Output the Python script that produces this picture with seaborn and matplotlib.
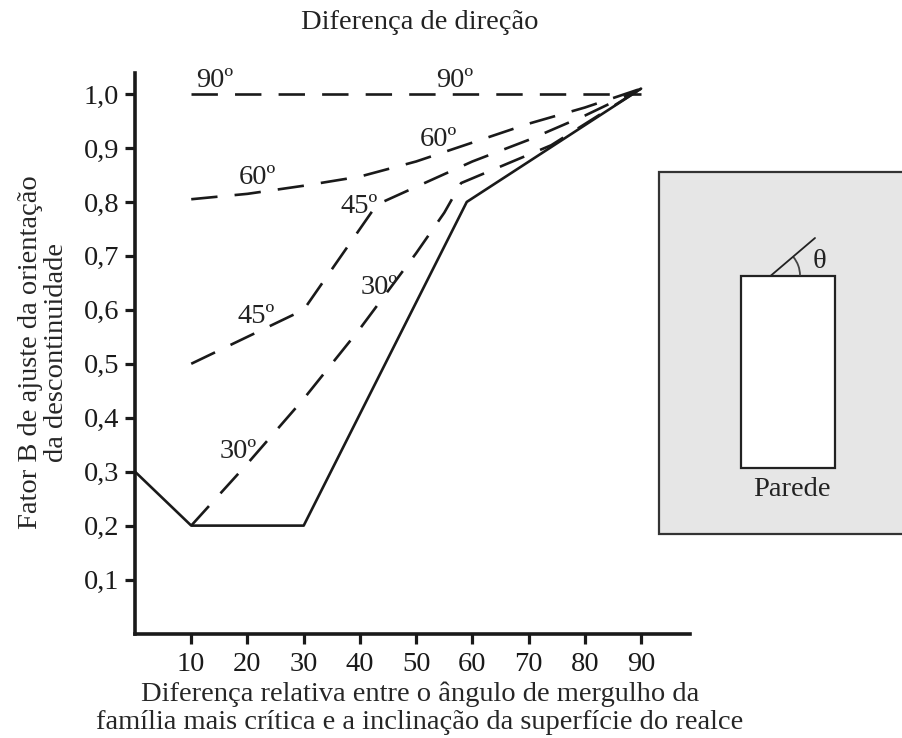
import numpy as np
import pandas as pd
import matplotlib.pyplot as plt
from matplotlib.patches import Rectangle, Arc
import seaborn as sns

# curves (x = angle difference, y = factor B)
x_solid = [0, 10, 30, 59, 90]
y_solid = [0.30, 0.20, 0.20, 0.80, 1.01]

x_30 = [10, 20, 30, 40, 50, 55, 58, 74, 90]
y_30 = [0.20, 0.315, 0.435, 0.565, 0.705, 0.78, 0.835, 0.905, 1.01]

x_45 = [10, 30, 43, 50, 60, 70, 80, 90]
y_45 = [0.50, 0.60, 0.795, 0.828, 0.875, 0.915, 0.96, 1.01]

x_60 = [10, 20, 30, 40, 50, 60, 70, 80, 90]
y_60 = [0.805, 0.815, 0.83, 0.847, 0.875, 0.91, 0.945, 0.975, 1.01]

x_90 = [10, 90]
y_90 = [1.0, 1.0]

x_ticks = [10, 20, 30, 40, 50, 60, 70, 80, 90]
y_ticks = [0.1, 0.2, 0.3, 0.4, 0.5, 0.6, 0.7, 0.8, 0.9, 1.0]
y_ticklabels = ["0,1", "0,2", "0,3", "0,4", "0,5", "0,6", "0,7", "0,8", "0,9", "1,0"]

# angle labels: text, x, y
angle_labels = [
    ("90º", 14.1, 1.026), ("90º", 56.8, 1.026),
    ("60º", 21.8, 0.846), ("60º", 54.0, 0.916),
    ("45º", 39.9, 0.792), ("45º", 21.6, 0.588),
    ("30º", 43.5, 0.642), ("30º", 18.3, 0.338),
]

FS = 20.5

sns.set_style("ticks")
plt.rcParams["font.family"] = ["Liberation Serif", "DejaVu Serif"]
plt.rcParams["text.color"] = "#222222"
plt.rcParams["xtick.color"] = "#1a1a1a"
plt.rcParams["ytick.color"] = "#1a1a1a"

df = pd.concat([
    pd.DataFrame({"x": x_solid, "y": y_solid, "serie": "solid"}),
    pd.DataFrame({"x": x_30, "y": y_30, "serie": "30"}),
    pd.DataFrame({"x": x_45, "y": y_45, "serie": "45"}),
    pd.DataFrame({"x": x_60, "y": y_60, "serie": "60"}),
    pd.DataFrame({"x": x_90, "y": y_90, "serie": "90"}),
])

fig = plt.figure(figsize=(9.03, 7.38), dpi=100)
ax = fig.add_axes([135 / 903, 1 - 633.5 / 738, 555 / 903, 560.5 / 738])

series = ["solid", "30", "45", "60", "90"]
dash = (10, 6.5)
sns.lineplot(
    data=df, x="x", y="y", hue="serie", style="serie",
    hue_order=series, style_order=series,
    palette={s: "#1a1a1a" for s in series},
    dashes={"solid": "", "30": dash, "45": dash, "60": dash, "90": dash},
    estimator=None, sort=False, legend=False, linewidth=1.9, ax=ax,
)

for txt, tx, ty in angle_labels:
    ax.text(tx, ty, txt, fontsize=FS, ha="center", va="center")

ax.set_xlim(0, 98.7)
ax.set_ylim(0, 1.039)
ax.set_xticks(x_ticks)
ax.set_xticklabels([str(v) for v in x_ticks])
ax.set_yticks(y_ticks)
ax.set_yticklabels(y_ticklabels)
ax.tick_params(axis="both", direction="out", length=7.5, width=2.3, labelsize=FS, pad=4)
ax.tick_params(axis="x", pad=5.5)
sns.despine(ax=ax)
for side in ["left", "bottom"]:
    ax.spines[side].set_linewidth(2.6)
    ax.spines[side].set_color("#1a1a1a")

ax.set_xlabel(
    "Diferença relativa entre o ângulo de mergulho da\n"
    "família mais crítica e a inclinação da superfície do realce",
    fontsize=FS, linespacing=1.17, va="top", multialignment="center",
)
ax.xaxis.set_label_coords(0.5135, -0.086)
ax.set_ylabel(
    "Fator B de ajuste da orientação\nda descontinuidade",
    fontsize=FS, linespacing=1.05, va="center", multialignment="center",
)
ax.yaxis.set_label_coords(-0.165, 0.502)
ax.set_title("Diferença de direção", fontsize=FS, x=0.5135, y=1.09, va="center", pad=0)

# wall sketch on the right (pixel coordinates)
ov = fig.add_axes([0, 0, 1, 1])
ov.set_xlim(0, 903)
ov.set_ylim(0, 738)
ov.axis("off")
ov.add_patch(Rectangle((659, 738 - 534), 260, 362, facecolor="#e6e6e6",
                       edgecolor="#333333", linewidth=1.6))
ov.add_patch(Rectangle((741, 738 - 467.5), 94, 192, facecolor="white",
                       edgecolor="#222222", linewidth=1.6))
ov.plot([771, 815], [738 - 275.5, 738 - 238], color="#222222", linewidth=1.3)
ov.add_patch(Arc((771, 738 - 275.5), 58, 58, theta1=0, theta2=40,
                 color="#444444", linewidth=1.3))
ov.text(820, 738 - 261, "θ", fontsize=FS, ha="center", va="center")
ov.text(792, 738 - 490, "Parede", fontsize=FS, ha="center", va="center")

fig.savefig("out.png", dpi=100)
